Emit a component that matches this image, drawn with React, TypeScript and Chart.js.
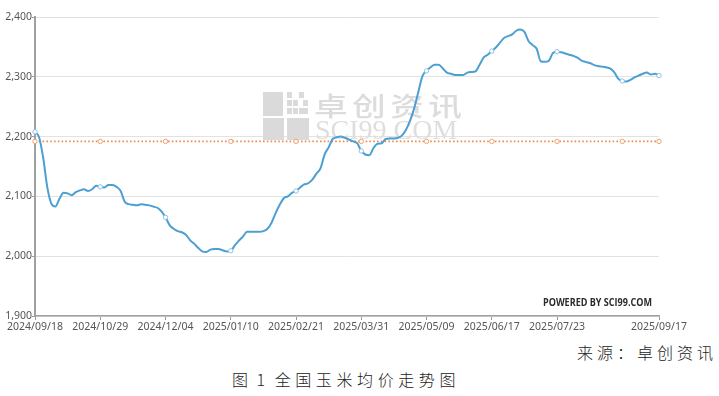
import React, { useEffect, useRef } from "react";
import { Chart, registerables } from "chart.js";

Chart.register(...registerables);

// ---- Data ----
const tickLabels = [
  "2024/09/18",
  "2024/10/29",
  "2024/12/04",
  "2025/01/10",
  "2025/02/21",
  "2025/03/31",
  "2025/05/09",
  "2025/06/17",
  "2025/07/23",
  "2025/09/17",
];
const tickStep = 16;

const priceValues = [
  2208, 2199, 2165, 2116, 2088, 2083, 2096, 2106, 2105, 2102,
  2107, 2110, 2112, 2109, 2112, 2118, 2116, 2115, 2119, 2119,
  2116, 2109, 2091, 2087, 2086, 2085, 2087, 2086, 2085, 2083,
  2081, 2075, 2065, 2052, 2046, 2042, 2040, 2036, 2027, 2021,
  2014, 2008, 2007, 2011, 2012, 2012, 2010, 2008, 2009, 2018,
  2026, 2033, 2041, 2041, 2041, 2041, 2042, 2046, 2056, 2072,
  2086, 2097, 2100, 2106, 2109, 2115, 2120, 2122, 2128, 2138,
  2147, 2170, 2182, 2196, 2199, 2200, 2198, 2195, 2192, 2189,
  2176, 2170, 2169, 2181, 2188, 2189, 2196, 2197, 2197, 2198,
  2202, 2212, 2227, 2248, 2275, 2301, 2310, 2316, 2320, 2320,
  2314, 2307, 2305, 2303, 2303, 2303, 2307, 2308, 2309, 2320,
  2332, 2337, 2343, 2349, 2357, 2365, 2368, 2371, 2377, 2379,
  2375, 2360, 2353, 2347, 2326, 2325, 2327, 2340, 2342, 2341,
  2339, 2337, 2335, 2332, 2327, 2325, 2323, 2320, 2318, 2317,
  2316, 2314, 2308, 2297, 2293, 2292, 2295, 2299, 2302, 2305,
  2307, 2304, 2305, 2302,
];
const averagePrice = 2192;

const yMin = 1900;
const yMax = 2400;
const yStep = 100;

const sourceText = "来源：卓创资讯";
const captionPrefix = "图";
const captionNumber = " 1 ";
const captionTitle = "全国玉米均价走势图";
const watermarkCn = "卓创资讯";
const watermarkEn = "SCI99.COM";
const poweredText = "POWERED BY SCI99.COM";

// ---- Derived ----
const lastIndex = priceValues.length - 1;
const categories = priceValues.map((_, i) => {
  if (i === lastIndex) return tickLabels[tickLabels.length - 1];
  if (i % tickStep === 0 && i / tickStep < tickLabels.length - 1) return tickLabels[i / tickStep];
  return "";
});
const markerRadius = priceValues.map((_, i) => (i % tickStep === 0 || i === lastIndex ? 2.2 : 0));
const averageSeries = priceValues.map(() => averagePrice);

const BLUE = "#4b9fd3";
const ORANGE = "#ee8a48";

const decorPlugin = {
  id: "decor",
  beforeDatasetsDraw(chart: any) {
    const ctx = chart.ctx as CanvasRenderingContext2D;
    ctx.save();
    // logo blocks
    ctx.fillStyle = "#dadada";
    ctx.fillRect(263, 92, 20, 24);
    ctx.fillRect(263, 118, 21, 22);
    ctx.fillRect(287, 118, 22, 22);
    const dots = [
      [287, 92], [299, 92],
      [287, 100], [293, 100], [303, 100],
      [287, 108], [293, 108], [299, 108], [303, 108],
    ];
    dots.forEach(([x, y]) => ctx.fillRect(x, y, 5, 6));
    // chinese text
    ctx.fillStyle = "#dcdcdc";
    ctx.save();
    ctx.translate(314, 116);
    ctx.scale(1.12, 0.88);
    ctx.font = "500 30px 'Noto Sans CJK SC', sans-serif";
    (ctx as any).letterSpacing = "4px";
    ctx.textBaseline = "alphabetic";
    ctx.fillText(watermarkCn, 0, 0);
    ctx.restore();
    // english text
    ctx.fillStyle = "#dedede";
    ctx.font = "28px 'Liberation Serif', serif";
    (ctx as any).letterSpacing = "0px";
    ctx.textBaseline = "alphabetic";
    ctx.fillText(watermarkEn, 315, 139, 149);
    ctx.restore();
  },
  afterDraw(chart: any) {
    const ctx = chart.ctx as CanvasRenderingContext2D;
    ctx.save();
    ctx.fillStyle = "#2a2a2a";
    ctx.font = "bold 10px 'Open Sans', sans-serif";
    ctx.textBaseline = "alphabetic";
    ctx.fillText(poweredText, 543, 305.5, 109);
    ctx.restore();
  },
};

export default function App() {
  const canvasRef = useRef<HTMLCanvasElement | null>(null);

  useEffect(() => {
    if (!canvasRef.current) return;
    const chart = new Chart(canvasRef.current, {
      type: "line",
      data: {
        labels: categories,
        datasets: [
          {
            data: priceValues,
            borderColor: BLUE,
            borderWidth: 2,
            backgroundColor: "#ffffff",
            pointRadius: markerRadius,
            pointBorderColor: "#8cc2e4",
            pointBackgroundColor: "#ffffff",
            pointBorderWidth: 1,
            cubicInterpolationMode: "monotone",
            fill: false,
          },
          {
            data: averageSeries,
            borderColor: ORANGE,
            borderWidth: 1.6,
            borderDash: [1.6, 2.2],
            pointRadius: markerRadius,
            pointBorderColor: "#f0a070",
            pointBackgroundColor: "#ffffff",
            pointBorderWidth: 1,
            fill: false,
          },
        ],
      },
      options: {
        animation: false,
        responsive: false,
        devicePixelRatio: 1,
        layout: { padding: { top: 17, right: 60, left: 0, bottom: 0 } },
        plugins: { legend: { display: false }, tooltip: { enabled: false } },
        scales: {
          x: {
            type: "category",
            offset: false,
            afterFit: (axis: any) => {
              axis.height = 24;
            },
            grid: {
              display: true,
              drawOnChartArea: false,
              drawTicks: true,
              tickLength: 4,
              tickColor: "#9a9a9a",
              color: "#9a9a9a",
            },
            border: { display: true, color: "#a0a0a0", width: 1.5 },
            ticks: {
              autoSkip: false,
              maxRotation: 0,
              minRotation: 0,
              padding: 1,
              color: "#555555",
              font: { family: "'Noto Sans', sans-serif", size: 10.5 },
              callback: (_v: any, i: number) => (categories[i] ? categories[i] : null),
            },
          },
          y: {
            min: yMin,
            max: yMax,
            afterFit: (axis: any) => {
              axis.width = 35;
            },
            grid: {
              color: "#e2e2e2",
              lineWidth: 1,
              tickLength: 3,
              tickColor: "#9a9a9a",
            },
            border: { display: true, color: "#a0a0a0", width: 2 },
            ticks: {
              stepSize: yStep,
              padding: 0,
              color: "#555555",
              font: { family: "'Noto Sans', sans-serif", size: 10.5 },
              callback: (v: any) => Number(v).toLocaleString("en-US"),
            },
          },
        },
      },
      plugins: [decorPlugin],
    } as any);
    return () => chart.destroy();
  }, []);

  const cjk = "'Noto Sans CJK SC', 'Noto Sans CJK JP', sans-serif";

  return (
    <div
      style={{
        position: "absolute",
        left: 0,
        top: 0,
        width: 719,
        height: 396,
        background: "#ffffff",
        overflow: "hidden",
      }}
    >
      <canvas ref={canvasRef} width={719} height={340} style={{ display: "block" }} />
      <div
        style={{
          position: "absolute",
          left: 577,
          top: 343,
          fontFamily: cjk,
          fontSize: 16,
          fontWeight: 300,
          lineHeight: "18px",
          letterSpacing: 4,
          color: "#222",
          whiteSpace: "nowrap",
        }}
      >
        {sourceText}
      </div>
      <div
        style={{
          position: "absolute",
          left: 232,
          top: 370,
          fontFamily: cjk,
          fontSize: 16,
          fontWeight: 300,
          lineHeight: "18px",
          color: "#222",
          whiteSpace: "pre",
        }}
      >
        <span style={{ letterSpacing: 3 }}>{captionPrefix}</span>
        <span style={{ letterSpacing: 2, marginRight: 2 }}>{captionNumber}</span>
        <span style={{ letterSpacing: 4.6 }}>{captionTitle}</span>
      </div>
    </div>
  );
}
